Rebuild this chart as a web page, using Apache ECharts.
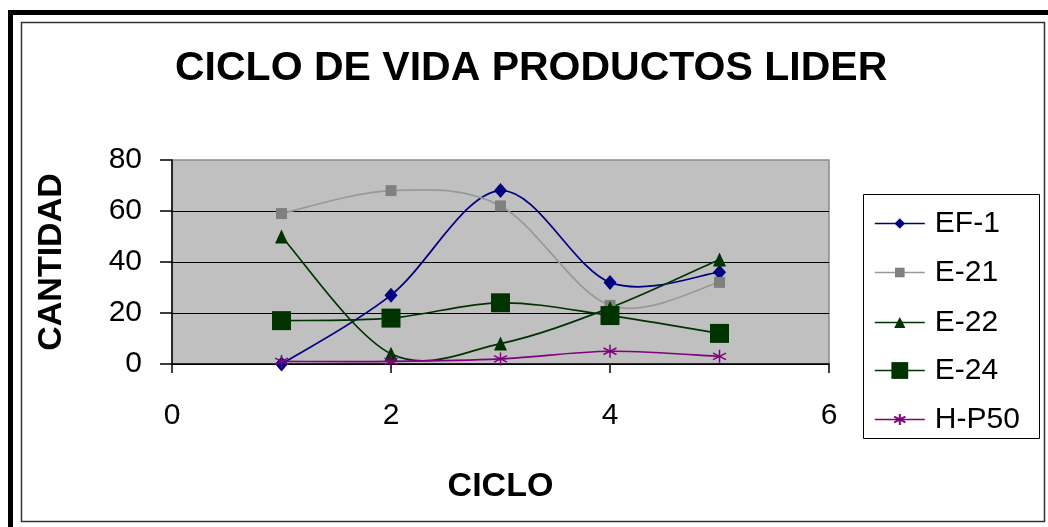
<!DOCTYPE html>
<html>
<head>
<meta charset="utf-8">
<title>CICLO DE VIDA PRODUCTOS LIDER</title>
<script src="https://cdn.jsdelivr.net/npm/echarts@6/dist/echarts.min.js"></script>
<style>
  html, body { margin: 0; padding: 0; background: #fff; }
  #chart { width: 1048px; height: 527px; }
</style>
</head>
<body>
<div id="chart"></div>
<script>
// Cycles (x values) and quantity per product line
const cycles = [1, 2, 3, 4, 5];
const seriesNames = ['EF-1', 'E-21', 'E-22', 'E-24', 'H-P50'];
const ef1  = [0, 27, 68, 32, 36];
const e21  = [59, 68, 62, 23, 32];
const e22  = [50, 4, 8, 22, 41];
const e24  = [17, 18, 24, 19, 12];
const hp50 = [1, 1, 2, 5, 3];
const xTicks = [0, 2, 4, 6];
const yTicks = [0, 20, 40, 60, 80];

const FONT = "'Liberation Sans', Arial, sans-serif";
const STAR = 'path://M5,0L5,10M0.7,2.5L9.3,7.5M0.7,7.5L9.3,2.5';

const pairs = vals => cycles.map((c, i) => [c, vals[i]]);

const styles = [
  { data: ef1,  color: '#000080', line: '#000080', symbol: 'diamond',  size: [13, 15], legendH: 13 },
  { data: e21,  color: '#808080', line: '#999999', symbol: 'rect',     size: 11,       legendH: 12 },
  { data: e22,  color: '#003300', line: '#003300', symbol: 'triangle', size: [13, 14], legendH: 14 },
  { data: e24,  color: '#003300', line: '#003300', symbol: 'rect',     size: 19,       legendH: 21 },
  { data: hp50, color: '#800080', line: '#800080', symbol: STAR,       size: 13,       legendH: 14, star: true }
];

const legendCenters = [223, 272, 322, 370, 419];

// Smoothed curve through the points (cardinal spline, tension 1/6),
// drawn in pixel space from the axis scales.
function smoothCurve(points, color) {
  return function (params, api) {
    const p = points.map(pt => api.coord(pt));
    const n = p.length;
    const children = [];
    for (let i = 0; i < n - 1; i++) {
      const p0 = p[Math.max(i - 1, 0)];
      const p1 = p[i];
      const p2 = p[i + 1];
      const p3 = p[Math.min(i + 2, n - 1)];
      children.push({
        type: 'bezierCurve',
        shape: {
          x1: p1[0], y1: p1[1],
          cpx1: p1[0] + (p2[0] - p0[0]) / 6, cpy1: p1[1] + (p2[1] - p0[1]) / 6,
          cpx2: p2[0] - (p3[0] - p1[0]) / 6, cpy2: p2[1] - (p3[1] - p1[1]) / 6,
          x2: p2[0], y2: p2[1]
        },
        style: { stroke: color, lineWidth: 1.7, fill: null }
      });
    }
    return { type: 'group', children: children };
  };
}

const curveSeries = styles.map((s, i) => {
  const pts = pairs(s.data);
  return {
    type: 'custom',
    coordinateSystem: 'cartesian2d',
    data: [pts[0]],
    renderItem: smoothCurve(pts, s.line),
    silent: true,
    z: 2 + i
  };
});

const markerSeries = styles.map((s, i) => ({
  name: seriesNames[i],
  type: 'line',
  data: pairs(s.data),
  symbol: s.symbol,
  symbolSize: s.size,
  symbolKeepAspect: false,
  lineStyle: { color: s.line, width: 1.6, opacity: 0 },
  itemStyle: s.star
    ? { color: 'rgba(0,0,0,0)', borderColor: s.color, borderWidth: 1.5 }
    : { color: s.color, borderWidth: 0 },
  emphasis: { disabled: true },
  z: 10 + i
}));

const legends = styles.map((s, i) => ({
  data: [seriesNames[i]],
  left: 874,
  top: legendCenters[i] - 14.5,
  padding: 0,
  itemWidth: 50,
  itemHeight: s.legendH,
  selectedMode: false,
  lineStyle: { color: s.line, width: 1.6, opacity: 1 },
  textStyle: {
    fontFamily: FONT, fontSize: 30, color: '#000',
    padding: [0, 0, 0, 5]
  }
}));

const chart = echarts.init(document.getElementById('chart'), null, { renderer: 'canvas' });
chart.setOption({
  animation: false,
  backgroundColor: '#ffffff',
  title: {
    text: 'CICLO DE VIDA PRODUCTOS LIDER',
    left: 170,
    top: 43,
    textStyle: { fontFamily: FONT, fontSize: 41, fontWeight: 'bold', color: '#000' }
  },
  legend: legends,
  grid: {
    left: 172, right: 219, top: 160, bottom: 163,
    show: true,
    backgroundColor: '#c0c0c0',
    borderColor: '#8c8c8c',
    borderWidth: 1.5
  },
  xAxis: {
    type: 'value',
    min: xTicks[0],
    max: xTicks[xTicks.length - 1],
    interval: 2,
    name: 'CICLO',
    nameLocation: 'middle',
    nameGap: 106,
    nameTextStyle: { fontFamily: FONT, fontSize: 34, fontWeight: 'bold', color: '#000' },
    axisLine: { show: true, onZero: false, lineStyle: { color: '#000', width: 1.5 } },
    axisTick: { show: true, inside: false, length: 9, lineStyle: { color: '#000', width: 1.5 } },
    axisLabel: {
      margin: 37, fontFamily: FONT, fontSize: 30, color: '#000',
      formatter: v => (xTicks.indexOf(v) >= 0 ? String(v) : '')
    },
    splitLine: { show: false }
  },
  yAxis: {
    type: 'value',
    min: yTicks[0],
    max: yTicks[yTicks.length - 1],
    interval: 20,
    name: 'CANTIDAD',
    nameLocation: 'middle',
    nameGap: 103,
    nameRotate: 90,
    nameTextStyle: { fontFamily: FONT, fontSize: 34, fontWeight: 'bold', color: '#000' },
    axisLine: { show: true, lineStyle: { color: '#000', width: 1.5 } },
    axisTick: { show: true, inside: false, length: 12, lineStyle: { color: '#000', width: 1.5 } },
    axisLabel: {
      margin: 30, fontFamily: FONT, fontSize: 30, color: '#000',
      formatter: v => (yTicks.indexOf(v) >= 0 ? String(v) : '')
    },
    splitLine: { show: true, showMaxLine: false, lineStyle: { color: '#000', width: 1.2 } }
  },
  graphic: [
    // thick outer frame (left and top edges)
    { type: 'polyline', z: 100, silent: true,
      shape: { points: [[10.5, 530], [10.5, 12.5], [1050, 12.5]] },
      style: { stroke: '#000', lineWidth: 5, fill: null } },
    // inner thin chart border
    { type: 'rect', z: 100, silent: true,
      shape: { x: 21.5, y: 22.5, width: 1023, height: 499 },
      style: { stroke: '#333', lineWidth: 1.5, fill: null } },
    // legend box
    { type: 'rect', z: 100, silent: true,
      shape: { x: 863.5, y: 194.5, width: 176, height: 244 },
      style: { stroke: '#000', lineWidth: 1, fill: null } }
  ],
  series: curveSeries.concat(markerSeries)
});
</script>
</body>
</html>
